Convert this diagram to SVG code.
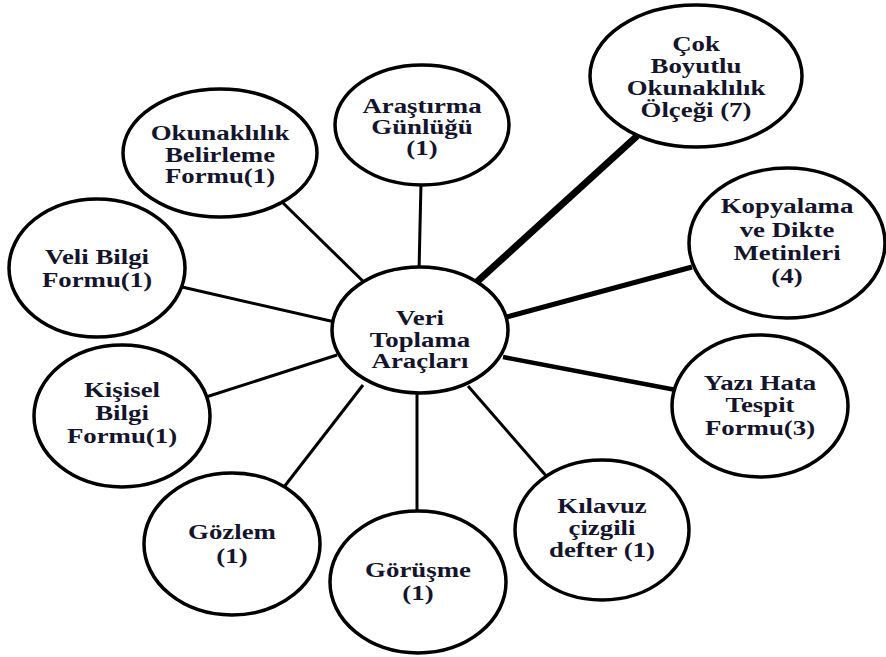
<svg xmlns="http://www.w3.org/2000/svg" width="886" height="657" viewBox="0 0 886 657">
<style>
.node ellipse{fill:#fff;stroke:#000;stroke-width:3.5}
.lbl text{font-family:"Liberation Serif","Times New Roman",serif;font-weight:bold;font-size:22px;fill:#14142c;text-anchor:middle}
.edge{stroke:#000;stroke-width:3;stroke-linecap:butt}
</style>
<rect width="886" height="657" fill="#fff"/>
<g id="connectors">
<line class="edge" x1="280" y1="200" x2="372" y2="290"/>
<line class="edge" x1="421" y1="183" x2="419" y2="272"/>
<line class="edge" x1="637" y1="136" x2="468" y2="290" style="stroke-width:7"/>
<line class="edge" x1="692" y1="267" x2="503" y2="318" style="stroke-width:5"/>
<line class="edge" x1="676" y1="390" x2="503" y2="357" style="stroke-width:4.5"/>
<line class="edge" x1="548" y1="478" x2="468" y2="386"/>
<line class="edge" x1="417" y1="515" x2="417" y2="390"/>
<line class="edge" x1="284" y1="487" x2="363" y2="385"/>
<line class="edge" x1="206" y1="397" x2="337" y2="355"/>
<line class="edge" x1="182" y1="287" x2="335" y2="322"/>
</g>
<g id="center" class="node" transform="translate(420,330)">
<ellipse rx="88" ry="63"/>
<g class="lbl" transform="scale(1.22,1)"><text y="-5">Veri</text><text y="17">Toplama</text><text y="38">Araçları</text></g>
</g>
<g id="okunaklilik-belirleme" class="node" transform="translate(220,153)">
<ellipse rx="97" ry="64"/>
<g class="lbl" transform="scale(1.22,1)"><text y="-13">Okunaklılık</text><text y="9">Belirleme</text><text y="30">Formu(1)</text></g>
</g>
<g id="arastirma" class="node" transform="translate(422,125)">
<ellipse rx="87" ry="60"/>
<g class="lbl" transform="scale(1.22,1)"><text y="-12">Araştırma</text><text y="9">Günlüğü</text><text y="30">(1)</text></g>
</g>
<g id="cok-boyutlu" class="node" transform="translate(696,76)">
<ellipse rx="106" ry="71"/>
<g class="lbl" transform="scale(1.22,1)"><text y="-25">Çok</text><text y="-3">Boyutlu</text><text y="19">Okunaklılık</text><text y="41">Ölçeği (7)</text></g>
</g>
<g id="kopyalama" class="node" transform="translate(787,243)">
<ellipse rx="98" ry="75"/>
<g class="lbl" transform="scale(1.22,1)"><text y="-30">Kopyalama</text><text y="-6">ve Dikte</text><text y="17">Metinleri</text><text y="40">(4)</text></g>
</g>
<g id="yazi-hata" class="node" transform="translate(760,406)">
<ellipse rx="88" ry="71"/>
<g class="lbl" transform="scale(1.22,1)"><text y="-16">Yazı Hata</text><text y="6">Tespit</text><text y="29">Formu(3)</text></g>
</g>
<g id="kilavuz" class="node" transform="translate(602,530)">
<ellipse rx="87" ry="70"/>
<g class="lbl" transform="scale(1.22,1)"><text y="-17">Kılavuz</text><text y="5">çizgili</text><text y="27">defter (1)</text></g>
</g>
<g id="gorusme" class="node" transform="translate(418,582)">
<ellipse rx="88" ry="71"/>
<g class="lbl" transform="scale(1.22,1)"><text y="-5">Görüşme</text><text y="18">(1)</text></g>
</g>
<g id="gozlem" class="node" transform="translate(232,544)">
<ellipse rx="88" ry="71"/>
<g class="lbl" transform="scale(1.22,1)"><text y="-5">Gözlem</text><text y="19">(1)</text></g>
</g>
<g id="kisisel" class="node" transform="translate(122,416)">
<ellipse rx="88" ry="71"/>
<g class="lbl" transform="scale(1.22,1)"><text y="-19">Kişisel</text><text y="4">Bilgi</text><text y="27">Formu(1)</text></g>
</g>
<g id="veli" class="node" transform="translate(97,268)">
<ellipse rx="88" ry="69"/>
<g class="lbl" transform="scale(1.22,1)"><text y="-4">Veli Bilgi</text><text y="19">Formu(1)</text></g>
</g>
</svg>
